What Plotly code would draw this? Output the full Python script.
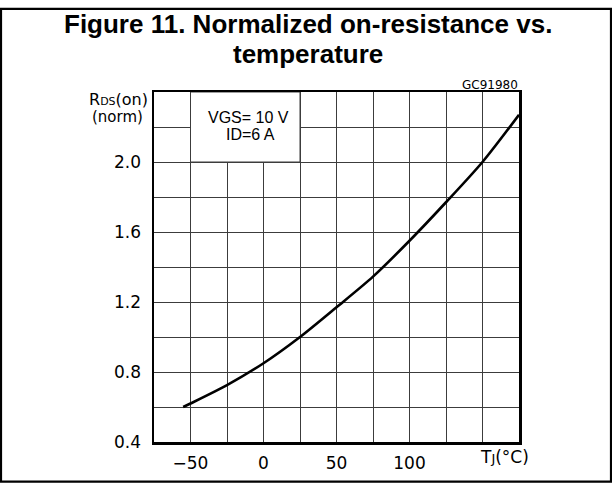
import plotly.graph_objects as go

# Data
temp_c = [-55, -50, -25, 0, 25, 50, 75, 100, 125, 150, 175]
rds_norm = [0.60, 0.62, 0.725, 0.85, 1.0, 1.17, 1.345, 1.55, 1.77, 2.0, 2.27]

x_tick_vals = [-50, 0, 50, 100]
x_tick_text = ["\u221250", "0", "50", "100"]
y_tick_vals = [0.4, 0.8, 1.2, 1.6, 2.0]
y_tick_text = ["0.4", "0.8", "1.2", "1.6", "2.0"]

W, H = 612, 485
L, R, T, B = 154, 93, 92, 31
pw, ph = W - L - R, H - T - B


def px(x):
    return (x - L) / pw


def py(y):
    return (H - B - y) / ph


GRID = "#3c3c3c"
TICKFONT = dict(family="DejaVu Sans", size=17, color="black")

fig = go.Figure()
fig.add_trace(go.Scatter(
    x=temp_c, y=rds_norm, mode="lines",
    line=dict(color="black", width=2.6, shape="spline", smoothing=0.8),
    hoverinfo="skip", showlegend=False,
))

fig.update_layout(
    width=W, height=H,
    margin=dict(l=L, r=R, t=T, b=B),
    paper_bgcolor="white", plot_bgcolor="white",
    showlegend=False,
    xaxis=dict(
        range=[-75, 175], tickvals=x_tick_vals, ticktext=x_tick_text,
        showgrid=True, gridcolor=GRID, gridwidth=1,
        minor=dict(dtick=25, tick0=-75, showgrid=True, gridcolor=GRID, gridwidth=1),
        showline=True, linecolor="black", linewidth=2.5, mirror=True,
        ticks="", tickfont=TICKFONT, zeroline=False, fixedrange=True,
        ticklabelstandoff=4,
    ),
    yaxis=dict(
        range=[0.4, 2.4], tickvals=y_tick_vals, ticktext=y_tick_text,
        showgrid=True, gridcolor=GRID, gridwidth=1,
        minor=dict(dtick=0.2, tick0=0.4, showgrid=True, gridcolor=GRID, gridwidth=1),
        showline=True, linecolor="black", linewidth=2.5, mirror=True,
        ticks="", tickfont=TICKFONT, zeroline=False, fixedrange=True,
        ticklabelstandoff=7,
    ),
)

# White box behind the conditions text (covers grid, below the curve)
fig.add_shape(type="rect", xref="x", yref="y", x0=-50, x1=25, y0=2.0, y1=2.4,
              fillcolor="white", line=dict(color=GRID, width=1), layer="between")

# Outer frame of the figure (left, top, right)
fig.add_shape(type="rect", xref="paper", yref="paper",
              x0=px(1), x1=px(611), y0=py(495), y1=py(6),
              line=dict(color="black", width=2.2), fillcolor="rgba(0,0,0,0)", layer="above")

ann = []
ann.append(dict(text="<b>Figure 11. Normalized on-resistance vs.</b>", x=px(308), y=py(22),
                xref="paper", yref="paper", showarrow=False,
                font=dict(family="Liberation Sans", size=26, color="black"),
                xanchor="center", yanchor="middle"))
ann.append(dict(text="<b>temperature</b>", x=px(308), y=py(53),
                xref="paper", yref="paper", showarrow=False,
                font=dict(family="Liberation Sans", size=26, color="black"),
                xanchor="center", yanchor="middle"))
ann.append(dict(text="GC91980", x=px(520), y=py(84.5), xref="paper", yref="paper",
                showarrow=False, font=dict(family="DejaVu Sans", size=12, color="black"),
                xanchor="right", yanchor="middle"))
ann.append(dict(text="R<span style='font-size:11px'>DS</span>(on)", x=px(150), y=py(100),
                xref="paper", yref="paper", showarrow=False,
                font=dict(family="DejaVu Sans", size=16, color="black"),
                xanchor="right", yanchor="middle"))
ann.append(dict(text="(norm)", x=px(145), y=py(117.5), xref="paper", yref="paper",
                showarrow=False, font=dict(family="DejaVu Sans", size=15, color="black"),
                xanchor="right", yanchor="middle"))
ann.append(dict(text="T<span style='font-size:13px'>J</span>(°C)", x=px(504), y=py(469),
                xref="paper", yref="paper", showarrow=False,
                font=dict(family="DejaVu Sans", size=17, color="black"),
                xanchor="center", yanchor="middle"))
ann.append(dict(text="VGS= 10 V", x=px(248), y=py(118), xref="paper", yref="paper",
                showarrow=False, font=dict(family="Liberation Sans", size=16, color="black"),
                xanchor="center", yanchor="middle"))
ann.append(dict(text="ID=6 A", x=px(250), y=py(136), xref="paper", yref="paper",
                showarrow=False, font=dict(family="Liberation Sans", size=16, color="black"),
                xanchor="center", yanchor="middle"))
fig.update_layout(annotations=ann)

fig.write_html("out.html", config={"displayModeBar": False, "staticPlot": True},
               post_script="document.body.style.margin='0';document.body.style.overflow='hidden';")
